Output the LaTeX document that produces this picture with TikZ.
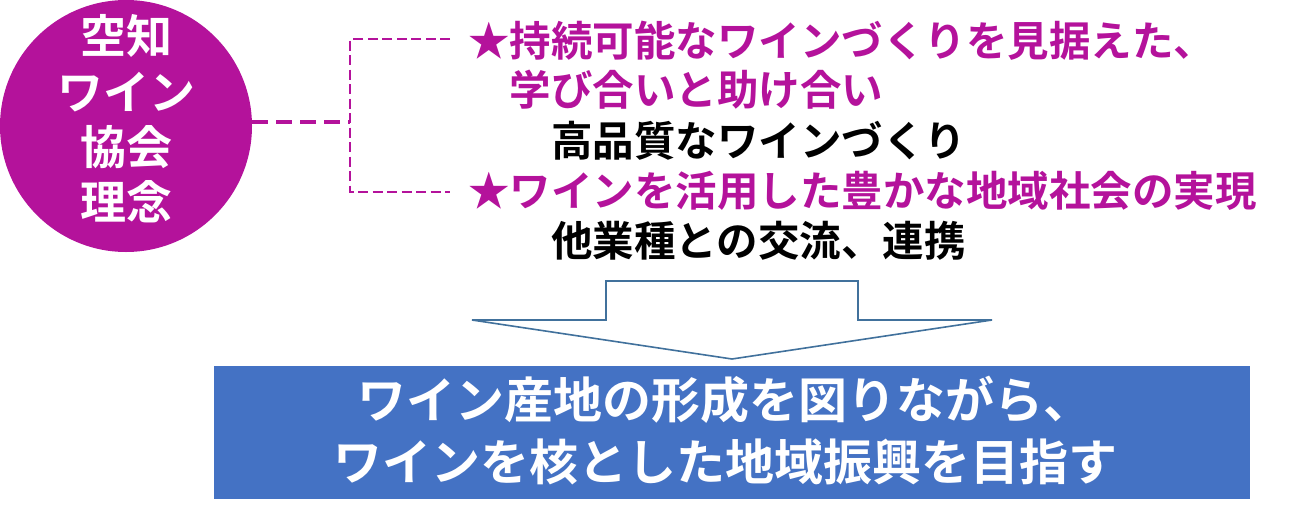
\documentclass[tikz,border=0pt]{standalone}
\usepackage{fontspec}
\newfontfamily\jp{Noto Sans CJK JP}[BoldFont=* Bold]
\definecolor{mag}{RGB}{180,18,155}
\definecolor{boxblue}{RGB}{68,114,196}
\definecolor{arrline}{RGB}{65,113,156}
\tikzset{
  circtxt/.style={anchor=base, inner sep=0pt, text=white, font=\jp\bfseries\fontsize{46}{46}\selectfont},
  magtxt/.style={anchor=base west, inner sep=0pt, text=mag, font=\jp\bfseries\fontsize{41.5}{41.5}\selectfont},
  blktxt/.style={anchor=base west, inner sep=0pt, text=black, font=\jp\bfseries\fontsize{41.5}{41.5}\selectfont},
  goaltxt/.style={anchor=base, inner sep=0pt, text=white, font=\jp\bfseries\fontsize{49}{49}\selectfont},
  mainconn/.style={draw=mag, line width=4pt, dash pattern=on 16pt off 8pt},
  brkconn/.style={draw=mag, line width=2.7pt, dash pattern=on 10pt off 4.5pt},
}
\begin{document}
\begin{tikzpicture}[x=1pt,y=-1pt]
\useasboundingbox (0,0) rectangle (1311,522);
% circle
\node[circle, fill=mag, minimum size=252pt, inner sep=0pt, outer sep=0pt] (circ) at (126,126) {};
\node[circtxt] (c1) at (126,53.5) {空知};
\node[circtxt] (c2) at (126,109.5) {ワイン};
\node[circtxt] (c3) at (126,164.5) {協会};
\node[circtxt] (c4) at (126,219.5) {理念};
% bracket
\coordinate (bmid) at (350,122);
\coordinate (btop) at (350,39);
\coordinate (bbot) at (350,192);
\coordinate (etop) at (450,39);
\coordinate (ebot) at (450,192);
\draw[mainconn] ([yshift=4pt]circ.east) -- (bmid);
\draw[brkconn] (etop) -- (btop) -- (bbot) -- (ebot);
% texts
\node[magtxt] (t1) at (468,56) {★持続可能なワインづくりを見据えた、};
\node[magtxt] (t2) at (509.5,105) {学び合いと助け合い};
\node[blktxt] (t3) at (551,156) {高品質なワインづくり};
\node[magtxt] (t4) at (468,206) {★ワインを活用した豊かな地域社会の実現};
\node[blktxt] (t5) at (551,256) {他業種との交流、連携};
% arrow
\draw[draw=arrline, fill=white, line width=1.6pt, line join=miter]
  (606,320) -- (606,281) -- (858,281) -- (858,320) -- (992,320) -- (732,359) -- (472,320) -- cycle;
% goal box
\node[fill=boxblue, minimum width=1036pt, minimum height=133pt, inner sep=0pt, outer sep=0pt] (goal) at (732,432.5) {};
\node[goaltxt] (g1) at (725,418.6) {ワイン産地の形成を図りながら、};
\node[goaltxt] (g2) at (725,480.6) {ワインを核とした地域振興を目指す};
\end{tikzpicture}
\end{document}
